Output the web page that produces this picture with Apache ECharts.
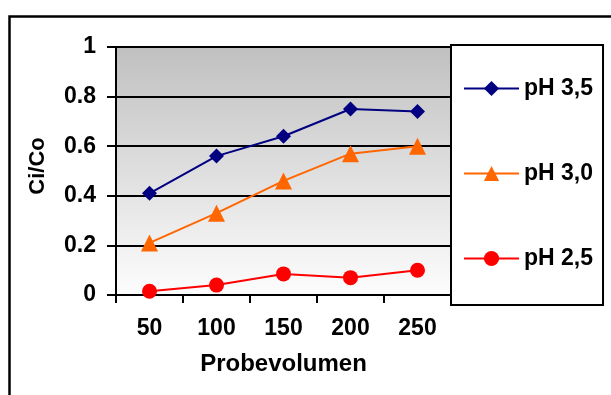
<!DOCTYPE html>
<html>
<head>
<meta charset="utf-8">
<script src="https://cdn.jsdelivr.net/npm/echarts@6/dist/echarts.min.js"></script>
<style>
html,body{margin:0;padding:0;background:#fff;}
#chart{width:611px;height:395px;}
</style>
</head>
<body>
<div id="chart"></div>
<script>
var categories = ['50', '100', '150', '200', '250'];
var ph35 = [0.41, 0.56, 0.64, 0.75, 0.74];
var ph30 = [0.21, 0.33, 0.46, 0.57, 0.60];
var ph25 = [0.015, 0.04, 0.085, 0.07, 0.10];
var yTickLabels = ['0', '0.2', '0.4', '0.6', '0.8', '1'];
var seriesNames = ['pH 3,5', 'pH 3,0', 'pH 2,5'];

var FONT = "'Liberation Sans', Arial, sans-serif";
var chart = echarts.init(document.getElementById('chart'), null, {renderer: 'canvas'});

function mkSeries(name, data, color, symbol, size) {
  return {
    name: name, type: 'line', data: data,
    symbol: symbol, symbolSize: size,
    lineStyle: {color: color, width: 2},
    itemStyle: {color: color},
    emphasis: {disabled: true},
    animation: false
  };
}

chart.setOption({
  animation: false,
  backgroundColor: '#fff',
  graphic: [{
    type: 'rect', left: 7, top: 14, z: 0,
    shape: {width: 700, height: 500},
    style: {fill: 'none', stroke: '#000', lineWidth: 2.5}
  }],
  grid: {
    left: 116, top: 47, right: 160, bottom: 100,
    show: true,
    borderColor: '#808080', borderWidth: 1,
    backgroundColor: {
      type: 'linear', x: 0, y: 0, x2: 0, y2: 1,
      colorStops: [{offset: 0, color: '#c0c0c0'}, {offset: 1, color: '#fdfdfd'}]
    }
  },
  legend: {
    data: seriesNames,
    orient: 'vertical',
    left: 451, top: 45,
    padding: [31, 10, 34, 12],
    itemWidth: 55, itemHeight: 19,
    itemGap: 60,
    borderColor: '#000', borderWidth: 2,
    backgroundColor: '#fff',
    textStyle: {fontFamily: FONT, fontSize: 23, fontWeight: 'bold', color: '#000', lineHeight: 25}
  },
  xAxis: {
    type: 'category', data: categories, boundaryGap: true,
    name: 'Probevolumen', nameLocation: 'middle', nameGap: 57,
    nameTextStyle: {fontFamily: FONT, fontSize: 24, fontWeight: 'bold', color: '#000'},
    axisLine: {lineStyle: {color: '#000', width: 2}},
    axisTick: {show: true, length: 8, inside: false, lineStyle: {color: '#000', width: 2}},
    axisLabel: {fontFamily: FONT, fontSize: 23, fontWeight: 'bold', color: '#000', margin: 22},
    splitLine: {show: false}
  },
  yAxis: {
    type: 'value', min: 0, max: 1, interval: 0.2,
    name: 'Ci/Co', nameLocation: 'middle', nameGap: 67, nameRotate: 90,
    nameTextStyle: {fontFamily: FONT, fontSize: 22, fontWeight: 'bold', color: '#000', padding: [0, 0, 0, 10]},
    axisLine: {show: true, lineStyle: {color: '#000', width: 2}},
    axisTick: {show: true, length: 9, lineStyle: {color: '#000', width: 2}},
    axisLabel: {
      fontFamily: FONT, fontSize: 23, fontWeight: 'bold', color: '#000', margin: 20,
      formatter: function (v) { return yTickLabels[Math.round(v / 0.2)]; }
    },
    splitLine: {show: true, lineStyle: {color: '#000', width: 2}}
  },
  series: [
    mkSeries(seriesNames[0], ph35, '#000080', 'diamond', 15),
    mkSeries(seriesNames[1], ph30, '#ff6600', 'triangle', 17),
    mkSeries(seriesNames[2], ph25, '#ff0000', 'circle', 15)
  ]
});
</script>
</body>
</html>
